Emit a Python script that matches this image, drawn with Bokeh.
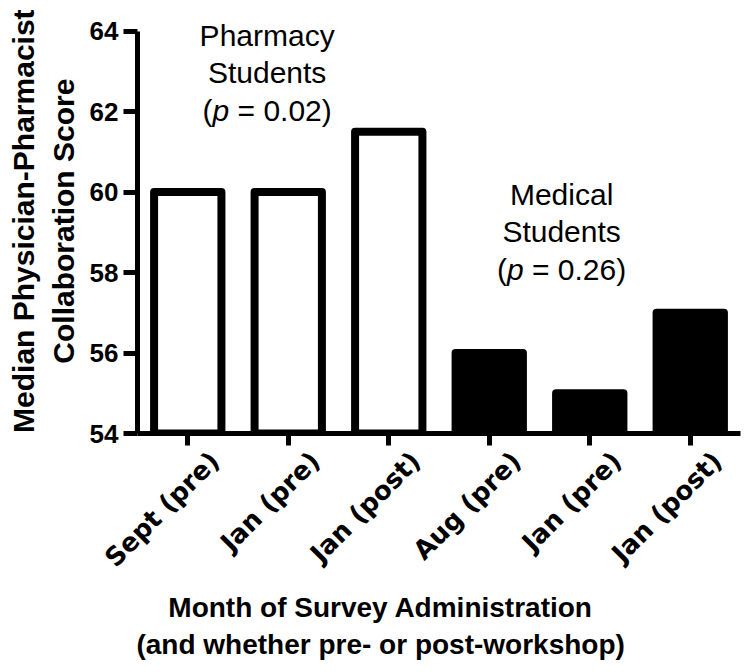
from bokeh.plotting import figure
from bokeh.models import Range1d, FixedTicker, ColumnDataSource, LinearAxis
from bokeh.core.properties import value
from bokeh.embed import file_html
from bokeh.resources import INLINE

# ---- data ----
categories = ["Sept (pre)", "Jan (pre)", "Jan (post)", "Aug (pre)", "Jan (pre)", "Jan (post)"]
scores = [60, 60, 61.5, 56, 55, 57]
groups = ["Pharmacy", "Pharmacy", "Pharmacy", "Medical", "Medical", "Medical"]
y_ticks = [54, 56, 58, 60, 62, 64]
pharm_p = "0.02"
med_p = "0.26"
y_title = ["Median Physician-Pharmacist", "Collaboration Score"]
x_title = ["Month of Survey Administration", "(and whether pre- or post-workshop)"]

xs = [i + 0.5 for i in range(len(categories))]
fills = ["white" if g == "Pharmacy" else "black" for g in groups]
src = ColumnDataSource(dict(x=xs, top=scores, fill=fills, cat=categories))

p = figure(width=744, height=672, output_backend="svg", toolbar_location=None,
           x_range=Range1d(0, len(categories)), y_range=Range1d(54, 64.76),
           min_border_left=137, min_border_right=4, min_border_top=0,
           min_border_bottom=239)
p.outline_line_color = None
p.xgrid.visible = False
p.ygrid.visible = False
p.background_fill_color = "white"

p.vbar(x="x", top="top", bottom=54, width=0.67, source=src,
       fill_color="fill", line_color="black", line_width=8, line_join="round")

FONT = "Liberation Sans"
NB = "\u00a0"

# y axis
ya = p.yaxis[0]
ya.ticker = FixedTicker(ticks=y_ticks)
ya.bounds = (54, 64)
ya.axis_line_width = 5
ya.axis_line_color = "black"
ya.major_tick_line_width = 5
ya.major_tick_line_color = "black"
ya.major_tick_out = 14
ya.major_tick_in = 0
ya.minor_tick_line_color = None
ya.major_label_text_font = FONT
ya.major_label_text_font_style = "bold"
ya.major_label_text_font_size = "26px"
ya.major_label_text_color = "black"
ya.major_label_standoff = 5
ya.axis_label = y_title[0] + NB + "\n" + y_title[1] + NB
ya.axis_label_text_font = FONT
ya.axis_label_text_font_style = "bold"
ya.axis_label_text_font_size = "30px"
ya.axis_label_text_color = "black"
ya.axis_label_standoff = 7

# x axis: line and tick marks at bar centres
xa = p.xaxis[0]
xa.ticker = FixedTicker(ticks=xs)
xa.major_label_text_font_size = "1px"
xa.major_label_text_color = None
xa.major_label_standoff = 0
xa.axis_line_width = 5
xa.axis_line_color = "black"
xa.major_tick_line_width = 5
xa.major_tick_line_color = "black"
xa.major_tick_out = 12
xa.major_tick_in = 0
xa.minor_tick_line_color = None

# x axis: category labels (placed like the reference, slightly right of ticks)
shift = 0.27
lab_ticks = [x + shift for x in xs]
la = LinearAxis(ticker=FixedTicker(ticks=lab_ticks),
                major_label_overrides={t: c for t, c in zip(lab_ticks, categories)})
la.axis_line_color = None
la.major_tick_line_color = None
la.minor_tick_line_color = None
la.major_tick_out = 0
la.major_tick_in = 0
la.major_label_orientation = 0.785398
la.major_label_text_font = "DejaVu Sans"
la.major_label_text_font_style = "bold"
la.major_label_text_font_size = "26px"
la.major_label_text_color = "black"
la.major_label_standoff = 11
pad = NB * 15
la.axis_label = x_title[0] + pad + "\n" + x_title[1] + pad
la.axis_label_text_font = FONT
la.axis_label_text_font_style = "bold"
la.axis_label_text_font_size = "28px"
la.axis_label_text_color = "black"
la.axis_label_standoff = 6
p.add_layout(la, "below")

# ---- group annotations ----
FS = 30


def annotate(cx, ys, name, pval):
    for txt, yy in zip([name, "Students"], ys[:2]):
        p.text(x=[cx], y=[yy], text=[txt], text_align="center", text_baseline="alphabetic",
               text_font=value(FONT), text_font_size=f"{FS}px", text_color="black")
    rest = NB + "=" + NB + pval + ")"
    w_open = 0.333 * FS
    w_p = 0.556 * FS
    w_rest = (0.278 * 2 + 0.584 + 0.556 * (len(pval) - 1) + 0.278 + 0.333) * FS
    start = -(w_open + w_p + w_rest) / 2
    p.text(x=[cx], y=[ys[2]], text=["("], x_offset=start, text_align="left",
           text_baseline="alphabetic", text_font=value(FONT), text_font_size=f"{FS}px",
           text_color="black")
    p.text(x=[cx], y=[ys[2]], text=["p"], x_offset=start + w_open, text_align="left",
           text_baseline="alphabetic", text_font=value(FONT), text_font_style="italic",
           text_font_size=f"{FS}px", text_color="black")
    p.text(x=[cx], y=[ys[2]], text=[rest], x_offset=start + w_open + w_p, text_align="left",
           text_baseline="alphabetic", text_font=value(FONT), text_font_size=f"{FS}px",
           text_color="black")


annotate(1.29, [63.89, 62.98, 62.03], "Pharmacy", pharm_p)
annotate(4.22, [59.94, 59.02, 58.08], "Medical", med_p)

open("out.html", "w").write(file_html(p, INLINE))
